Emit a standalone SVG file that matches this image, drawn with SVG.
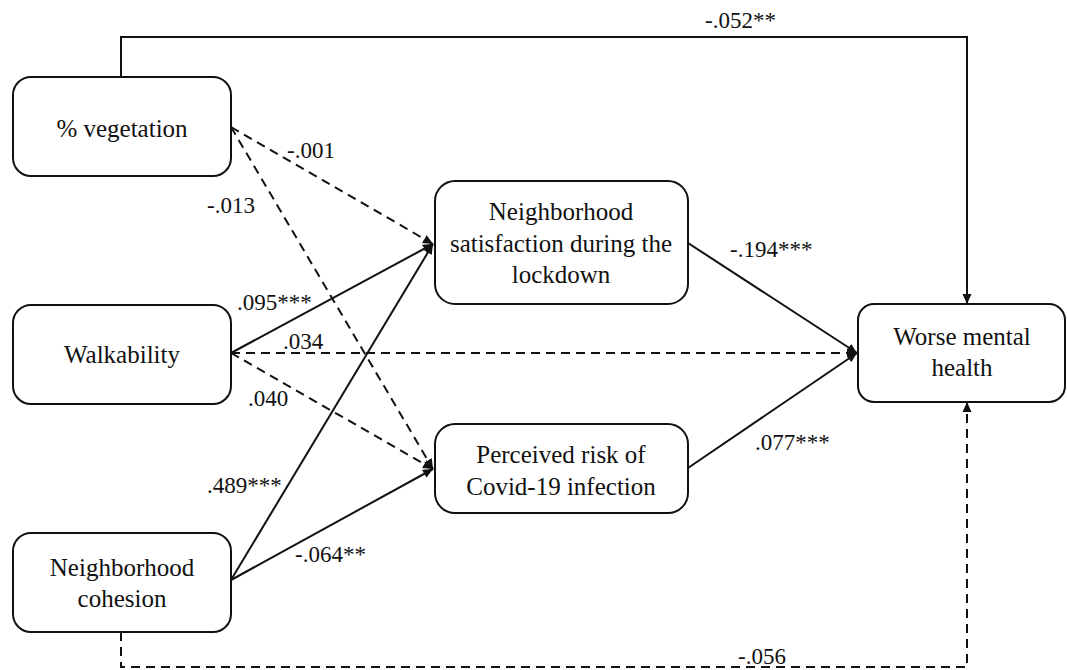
<svg xmlns="http://www.w3.org/2000/svg" width="1067" height="670" viewBox="0 0 1067 670">
<defs>
<marker id="ah" viewBox="0 0 10 10" refX="10" refY="5" markerWidth="10" markerHeight="10" markerUnits="userSpaceOnUse" orient="auto">
<path d="M0,0.5 L10,5 L0,9.5 Z" fill="#111"/>
</marker>
</defs>
<style>
.box{fill:#fff;stroke:#111;stroke-width:2}
.t{font-family:"Liberation Serif","Times New Roman",serif;font-size:25px;fill:#111;text-anchor:middle}
.l{font-family:"Liberation Serif","Times New Roman",serif;font-size:23px;fill:#111}
.s{fill:none;stroke:#111;stroke-width:2}
.d{fill:none;stroke:#111;stroke-width:2;stroke-dasharray:9,6}
</style>
<rect width="1067" height="670" fill="#fff"/>
<g id="connectors">
<path class="s" d="M121,77 V37 H967 V304" marker-end="url(#ah)"/>
<path class="d" d="M231,127 L433,244" marker-end="url(#ah)"/>
<path class="d" d="M231,127 L433,469" marker-end="url(#ah)"/>
<path class="s" d="M231,353 L433,244" marker-end="url(#ah)"/>
<path class="d" d="M231,353 L857,353" marker-end="url(#ah)"/>
<path class="d" d="M231,353 L433,469" marker-end="url(#ah)"/>
<path class="s" d="M231,580 L433,244" marker-end="url(#ah)"/>
<path class="s" d="M231,580 L433,469" marker-end="url(#ah)"/>
<path class="s" d="M688,243 L857,353" marker-end="url(#ah)"/>
<path class="s" d="M688,468 L857,353" marker-end="url(#ah)"/>
<path class="d" d="M121,632 V667 H967 V402" marker-end="url(#ah)"/>
<text class="l" x="705" y="28">-.052**</text>
<text class="l" x="287" y="158">-.001</text>
<text class="l" x="207" y="213">-.013</text>
<text class="l" x="237" y="310">.095***</text>
<text class="l" x="283" y="349">.034</text>
<text class="l" x="248" y="406">.040</text>
<text class="l" x="207" y="493">.489***</text>
<text class="l" x="295" y="562">-.064**</text>
<text class="l" x="730" y="257">-.194***</text>
<text class="l" x="755" y="450">.077***</text>
<text class="l" x="738" y="664">-.056</text>
</g>
<g id="vegetation">
<rect class="box" x="13" y="77" width="218" height="99" rx="18"/>
<text class="t" x="122" y="137">% vegetation</text>
</g>
<g id="walkability">
<rect class="box" x="13" y="305" width="218" height="99" rx="18"/>
<text class="t" x="122" y="363">Walkability</text>
</g>
<g id="cohesion">
<rect class="box" x="13" y="533" width="218" height="99" rx="18"/>
<text class="t" x="122" y="576">Neighborhood</text>
<text class="t" x="122" y="607">cohesion</text>
</g>
<g id="satisfaction">
<rect class="box" x="435" y="181" width="253" height="123" rx="20"/>
<text class="t" x="561" y="220">Neighborhood</text>
<text class="t" x="561" y="252">satisfaction  during the</text>
<text class="t" x="561" y="283">lockdown</text>
</g>
<g id="risk">
<rect class="box" x="435" y="424" width="253" height="89" rx="20"/>
<text class="t" x="561" y="463">Perceived risk of</text>
<text class="t" x="561" y="495">Covid-19 infection</text>
</g>
<g id="mental">
<rect class="box" x="858" y="304" width="207" height="98" rx="16"/>
<text class="t" x="962" y="345">Worse mental</text>
<text class="t" x="962" y="376">health</text>
</g>
</svg>
